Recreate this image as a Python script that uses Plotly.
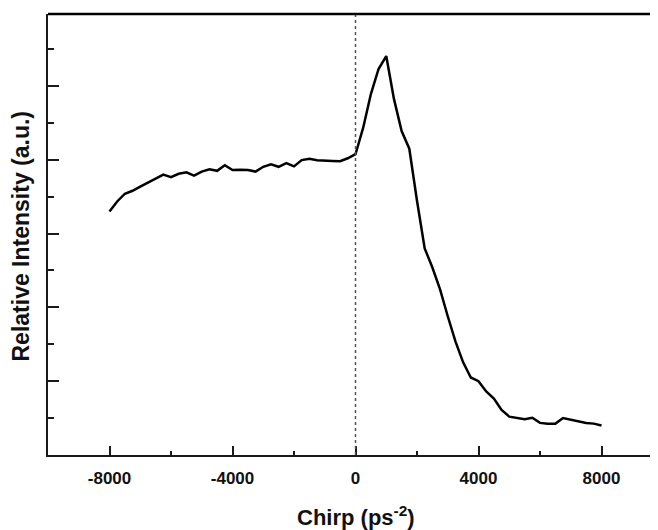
"""Chirp scan: relative intensity vs chirp."""

import plotly.graph_objects as go

# Chirp values (ps^-2), step 250
chirp = list(range(-8000, 8001, 250))

# Relative intensity (a.u.)
intensity = [
    6.60, 6.87, 7.08, 7.16, 7.27, 7.39, 7.49, 7.60, 7.53, 7.62,
    7.66, 7.57, 7.68, 7.74, 7.70, 7.85, 7.72, 7.73, 7.72, 7.68,
    7.81, 7.88, 7.81, 7.91, 7.82, 7.99, 8.03, 7.99, 7.99, 7.97,
    7.96, 8.04, 8.15,
    8.87, 9.78, 10.46, 10.81, 9.65, 8.78, 8.30, 6.89, 5.60, 5.08,
    4.49, 3.76, 3.08, 2.51, 2.10, 2.00, 1.72, 1.53, 1.22, 1.04,
    1.00, 0.97, 1.01, 0.87, 0.85, 0.85, 1.00, 0.95, 0.91, 0.87,
    0.85, 0.80,
]

x_ticks = [-8000, -4000, 0, 4000, 8000]
x_tick_text = ['-8000', '-4000', '0', '4000', '8000']

FONT = 'Liberation Sans, Arial, sans-serif'
AXIS_COLOR = '#1a1a1a'

fig = go.Figure()

fig.add_trace(go.Scatter(
    x=chirp, y=intensity,
    mode='lines',
    line=dict(color='#000000', width=2.5),
    showlegend=False,
))

# dotted marker at zero chirp
fig.add_shape(type='line', xref='x', yref='paper', x0=0, x1=0, y0=0, y1=1,
              line=dict(color='#555555', width=1.5, dash='dot'))
# top frame line
fig.add_shape(type='line', xref='paper', yref='paper', x0=0, x1=1,
              y0=1, y1=1, layer='above',
              line=dict(color='#000000', width=2.5))

# page body has an 8px margin, so the figure is offset by (8, 8);
# the right frame edge ends up just outside the window, as in the original
fig.update_layout(
    width=655, height=530,
    paper_bgcolor='white', plot_bgcolor='white',
    margin=dict(l=40, r=0, t=6, b=83),
    font=dict(family=FONT, color='#111111'),
    showlegend=False,
)

fig.update_xaxes(
    range=[-10000, 10000],
    showgrid=False, zeroline=False,
    showline=True, linecolor=AXIS_COLOR, linewidth=2,
    ticks='inside', ticklen=9, tickwidth=1.5, tickcolor=AXIS_COLOR,
    tickvals=x_ticks, ticktext=x_tick_text,
    tickfont=dict(size=17, family=FONT, color='#111111', weight='bold'),
    ticklabelstandoff=7,
    minor=dict(dtick=2000, tick0=0, ticks='inside', ticklen=4,
               tickwidth=1.5, tickcolor=AXIS_COLOR),
)

fig.update_yaxes(
    range=[0, 11.95],
    showgrid=False, zeroline=False,
    showline=True, linecolor=AXIS_COLOR, linewidth=2,
    ticks='inside', ticklen=11, tickwidth=1.5, tickcolor=AXIS_COLOR,
    tickvals=[2, 4, 6, 8, 10], showticklabels=False,
    minor=dict(dtick=1, tick0=0, ticks='inside', ticklen=6,
               tickwidth=1.5, tickcolor=AXIS_COLOR),
)

fig.add_annotation(
    text='<b>Chirp (ps<sup>-2</sup>)</b>',
    xref='paper', yref='paper', x=0.5, y=0,
    xanchor='center', yanchor='middle', yshift=-61,
    showarrow=False, font=dict(size=22, family=FONT, color='#111111'),
)
fig.add_annotation(
    text='<b>Relative Intensity (a.u.)</b>',
    xref='paper', yref='paper', x=0, y=0.5,
    xanchor='center', yanchor='middle', xshift=-28, yshift=-2,
    textangle=-90,
    showarrow=False, font=dict(size=23, family=FONT, color='#111111'),
)

fig.write_html("out.html", config={'displayModeBar': False})
